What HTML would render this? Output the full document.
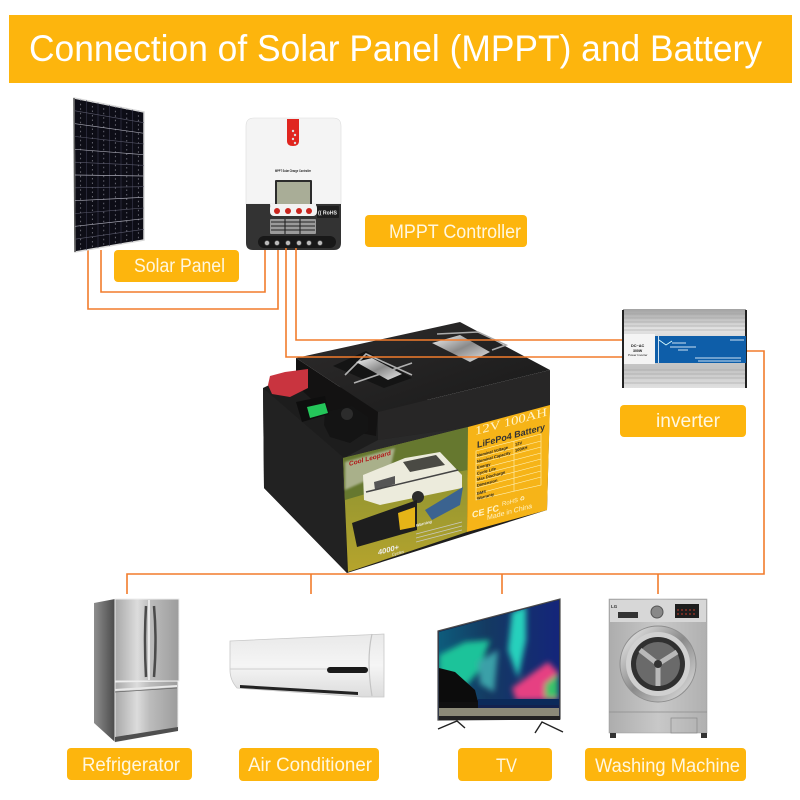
<!DOCTYPE html>
<html><head><meta charset="utf-8"><style>
html,body{margin:0;padding:0;background:#fff}svg{display:block}
text{font-family:"Liberation Sans",sans-serif}
.l{fill:#fdb50d}.t{fill:#fff7e0;font-size:19px}
.w{fill:none;stroke:#f27c2c;stroke-width:1.6}
.s{font-family:"Liberation Sans",sans-serif;fill:#222;font-size:4px;font-weight:bold}
</style></head><body>
<svg width="800" height="800" viewBox="0 0 800 800" xmlns="http://www.w3.org/2000/svg">
<defs>
<linearGradient id="steel" x1="0" x2="1" y1="0" y2="0"><stop offset="0" stop-color="#a8a8a8"/><stop offset=".35" stop-color="#dcdcdc"/><stop offset=".55" stop-color="#bcbcbc"/><stop offset="1" stop-color="#9c9c9c"/></linearGradient>
<linearGradient id="side" x1="0" x2="1"><stop offset="0" stop-color="#8e8e8e"/><stop offset="1" stop-color="#4a4a4a"/></linearGradient>
<linearGradient id="ac" x1="0" x2="0" y1="0" y2="1"><stop offset="0" stop-color="#e9e9e9"/><stop offset=".5" stop-color="#f5f5f5"/><stop offset="1" stop-color="#dcdcdc"/></linearGradient>
<linearGradient id="wash" x1="0" x2="1"><stop offset="0" stop-color="#adadad"/><stop offset=".5" stop-color="#c8c8c8"/><stop offset="1" stop-color="#b0b0b0"/></linearGradient>
<linearGradient id="tvsky" x1="0" x2="1" y1="0" y2="0"><stop offset="0" stop-color="#0d5c7c"/><stop offset=".4" stop-color="#143a62"/><stop offset="1" stop-color="#14257a"/></linearGradient>
<linearGradient id="inv" x1="0" x2="0" y1="0" y2="1"><stop offset="0" stop-color="#a2a2a2"/><stop offset=".25" stop-color="#e2e2e2"/><stop offset=".75" stop-color="#c2c2c2"/><stop offset="1" stop-color="#e0e0e0"/></linearGradient>
<linearGradient id="grass" x1="0" x2="0" y1="0" y2="1"><stop offset="0" stop-color="#7f8d34"/><stop offset="1" stop-color="#b6a42c"/></linearGradient>
<linearGradient id="topb" x1="0" x2="1" y1="0" y2="1"><stop offset="0" stop-color="#2e2c2c"/><stop offset="1" stop-color="#191919"/></linearGradient>
<linearGradient id="chrome" x1="0" x2="1" y1="0" y2="1"><stop offset="0" stop-color="#f4f4f4"/><stop offset=".5" stop-color="#8a8a8a"/><stop offset="1" stop-color="#e8e8e8"/></linearGradient>
<filter id="b2" x="-40%" y="-40%" width="180%" height="180%"><feGaussianBlur stdDeviation="3"/></filter>
<filter id="b1" x="-20%" y="-20%" width="140%" height="140%"><feGaussianBlur stdDeviation="1"/></filter>
<clipPath id="tvc"><polygon points="439,632 559,600 559,700 439,700"/></clipPath>
</defs>

<rect width="800" height="800" fill="#fff"/>
<rect x="9" y="15" width="783" height="68" fill="#fdb50d"/>
<text x="29" y="61" font-size="37" fill="#fff" textLength="733" lengthAdjust="spacingAndGlyphs">Connection of Solar Panel (MPPT) and Battery</text>

<!-- wires under devices -->
<path class="w" d="M101 250V292H265V248"/>
<path class="w" d="M88 250V309H278V248"/>
<path class="w" d="M746 351H764V574H127V594"/>
<path class="w" d="M311 574V594M502 574V594M658 574V594"/>

<!-- solar panel -->
<polygon points="74,98 144,112 144,240 75,252" fill="#0d0d16" stroke="#d8d8d8" stroke-width="1.5"/>
<line x1="74" y1="98" x2="75" y2="252" stroke="#555" stroke-width="1.5"/>
<g stroke="#3a3b50" stroke-width=".6">
<path d="M86.500 100.300V250M98 102.700V248M109.500 105V246M121 107.300V244M132.500 109.700V242"/>
</g>
<g stroke="#8c8c98" stroke-width=".7" stroke-dasharray="1.500 3">
<path d="M80.700 99.300V250.800M92.300 101.500V248.800M103.800 103.800V246.800M115.300 106.200V244.800M126.800 108.500V242.800M138.300 110.800V240.800"/>
</g>
<g stroke="#a8a8b4" stroke-width=".7">
<path d="M75 123.700L144 133.300M75 149.300L144 154.700M75 175L144 176M75 200.700L144 197.300M75 226.300L144 218.700"/>
</g>
<g stroke="#5a5a6c" stroke-width=".6">
<path d="M75 110.800L144 122.700M75 136.500L144 144M75 162.200L144 165.300M75 187.800L144 186.700M75 213.500L144 208M75 239.200L144 229.300"/>
</g>

<!-- controller -->
<path d="M254 118H333Q341 118 341 126V204H246V126Q246 118 254 118Z" fill="#f4f4f4" stroke="#dcdcdc" stroke-width=".6"/>
<path d="M287 119H299V141Q299 146 293 146Q287 146 287 141Z" fill="#e0251f"/>
<circle cx="293" cy="131" r="1.2" fill="#ddd"/><circle cx="295" cy="135" r="1.2" fill="#ddd"/><circle cx="293" cy="139" r="1.2" fill="#ddd"/><circle cx="295" cy="143" r="1.2" fill="#ddd"/>
<text x="275" y="172" font-size="3.500" font-weight="bold" fill="#222" textLength="36" lengthAdjust="spacingAndGlyphs">MPPT Solar Charge Controller</text>
<rect x="275" y="180" width="37" height="30" fill="#2b2b2b" rx="1"/>
<rect x="277" y="182" width="33" height="25" fill="#a9ad97"/>
<path d="M246 204H270Q271 216 279 216H308Q316 216 316 204H341V243Q341 250 334 250H253Q246 250 246 243Z" fill="#333"/>
<rect x="270" y="204" width="47" height="12" rx="4" fill="#f2f2f2"/>
<circle cx="277" cy="211" r="3" fill="#c9241d"/><circle cx="288" cy="211" r="3" fill="#c9241d"/><circle cx="299" cy="211" r="3" fill="#c9241d"/><circle cx="309" cy="211" r="3" fill="#c9241d"/>
<rect x="317" y="206" width="22" height="12" rx="1" fill="#1e1e1e"/>
<text x="318" y="214.500" font-size="5.500" fill="#eee" font-weight="bold" textLength="19" lengthAdjust="spacingAndGlyphs">(( RoHS</text>
<rect x="270" y="219" width="46" height="15" fill="#9a9a9a" rx="1"/>
<path d="M271 222H315M271 226H315M271 230H315M285 219V234M300 219V234" stroke="#222" stroke-width="1.100"/>
<rect x="258" y="236" width="78" height="12" rx="6" fill="#181818"/>
<g fill="#bbb" stroke="#555" stroke-width=".6"><circle cx="267" cy="243" r="2.400"/><circle cx="277" cy="243" r="2.400"/><circle cx="288" cy="243" r="2.400"/><circle cx="299" cy="243" r="2.400"/><circle cx="309" cy="243" r="2.400"/><circle cx="320" cy="243" r="2.400"/></g>

<!-- battery -->
<polygon points="263,388 296,372 378,400 550,400 547,510 347,573 264,488" fill="#1d1d1d"/>
<polygon points="263,388 344,458 347,573 264,488" fill="#222"/>
<polygon points="296,358 460,322 550,370 378,412" fill="url(#topb)"/>
<polygon points="296,358 378,412 376,436 345,430 296,385" fill="#131212"/>
<polygon points="378,412 550,370 550,405 468,427 378,440" fill="#272626"/>
<polygon points="344,458 378,440 468,427 468,440 348,470" fill="#2a2a2a"/>
<!-- handles -->
<polygon points="333,366 366,351 412,378 384,388" fill="#141414"/>
<path d="M345 375L366 354 412 375M354 383L412 363" fill="none" stroke="#b0b0b0" stroke-width="1.600"/>
<polygon points="356,362 372,358 402,374 388,380" fill="url(#chrome)"/>
<polygon points="432,343 460,335 490,352 470,362" fill="url(#chrome)"/>
<path d="M437 334L478 332 506 345 492 350" fill="none" stroke="#aaa" stroke-width="1.600"/>
<!-- terminals -->
<polygon points="270,376 285,372 308,369 308,388 290,397 272,394 268,385" fill="#c9343f"/>
<polygon points="325,412 352,406 368,417 368,431 350,443 330,437 324,425" fill="#141414"/>
<circle cx="347" cy="414" r="6" fill="#2c2c2c"/>
<polygon points="296,402 325,396 329,414 302,422" fill="#0e0e0e"/>
<polygon points="307,407 325,403 328,413 310,418" fill="#24c65a"/>
<!-- front label -->
<polygon points="343,458 468,427 467,532 348,572" fill="url(#grass)"/>
<polygon points="343,458 468,427 468,470 420,478 345,500" fill="#66782f"/>
<polygon points="345,462 395,448 390,470 345,490" fill="#a9b08a" filter="url(#b1)"/>
<polygon points="363,475 405,458 440,452 462,475 462,488 380,505 364,500" fill="#ecebdc"/>
<polygon points="403,462 436,455 445,465 410,472" fill="#4a4a44"/>
<polygon points="374,482 395,476 395,484 375,490" fill="#555"/>
<path d="M366 492L458 470" stroke="#444" stroke-width="1.500"/>
<circle cx="418" cy="497" r="6" fill="#2b2b2b"/>
<polygon points="425,510 463,487 460,505 432,520" fill="#3b6390"/>
<polygon points="352,523 417,500 417,530 357,547" fill="#1e1e1e"/>
<polygon points="398,513 415,507 415,527 400,530" fill="#e5b417"/>
<text transform="translate(349,466) skewY(-15)" font-size="6.500" font-weight="bold" fill="#b01818">Cool Leopard</text>
<text transform="translate(378,555) skewY(-15)" font-size="7.500" font-weight="bold" fill="#eee">4000+</text>
<text transform="translate(392,556) skewY(-15)" font-size="4" fill="#eee">Cycles</text>
<text transform="translate(416,527) skewY(-15)" font-size="4" font-weight="bold" fill="#eee">Warning</text>
<path d="M416 534L462 522M416 538L462 526M416 542L462 530" stroke="#c9c9c0" stroke-width=".8"/>
<!-- yellow label -->
<polygon points="468,427 550,405 547,510 467,532" fill="#f6b418"/>
<text transform="translate(475,435) skewY(-15)" font-size="12" fill="#fff3c8" textLength="72" lengthAdjust="spacingAndGlyphs" style="font-family:'Liberation Serif',serif">12V 100AH</text>
<text transform="translate(477,448) skewY(-15)" font-size="9" font-weight="bold" fill="#333" textLength="68" lengthAdjust="spacingAndGlyphs">LiFePo4 Battery</text>
<g stroke="#fff2b8" stroke-width=".6" fill="none"><path d="M476 451L541 434V485L476 500ZM476 458L541 441M476 464L541 447M476 470L541 453M476 476L541 459M476 482L541 465M476 488L541 471M476 494L541 477M514 441V491"/></g>
<g class="s"><text transform="translate(477,457) skewY(-15)">Nominal Voltage</text><text transform="translate(477,463) skewY(-15)">Nominal Capacity</text><text transform="translate(477,469) skewY(-15)">Energy</text><text transform="translate(477,475) skewY(-15)">Cycle Life</text><text transform="translate(477,481) skewY(-15)">Max Discharge</text><text transform="translate(477,487) skewY(-15)">Dimension</text><text transform="translate(477,495) skewY(-15)">BMS</text><text transform="translate(477,500) skewY(-15)">Warranty</text></g>
<text transform="translate(515,446) skewY(-15)" class="s">12V</text>
<text transform="translate(515,452) skewY(-15)" class="s">100AH</text>
<text transform="translate(472,518) skewY(-15)" font-size="9" font-weight="bold" fill="#fff3c8">CE FC</text>
<text transform="translate(502,506) skewY(-15)" font-size="6" fill="#fff3c8">RoHS ♻</text>
<text transform="translate(487,520) skewY(-15)" font-size="7" fill="#fff3c8">Made in China</text>

<!-- wires over battery -->
<path class="w" d="M296 248V340H623"/>
<path class="w" d="M286 248V357H623"/>

<!-- inverter -->
<rect x="623" y="309" width="123" height="79" fill="url(#inv)"/>
<rect x="622" y="310" width="2" height="78" fill="#222"/><rect x="745" y="310" width="2" height="78" fill="#222"/>
<g stroke="#9a9a9a" stroke-width=".6"><path d="M624 314H745M624 318H745M624 322H745M624 326H745M624 330H745M624 370H745M624 374H745M624 378H745M624 383H745"/></g>
<rect x="624" y="334" width="31" height="30" fill="#f4f4f4"/>
<rect x="655" y="336" width="91" height="27" fill="#0e5ea9"/>
<rect x="658" y="336" width="1" height="27" fill="#cbe0f2"/>
<text x="631" y="347" font-size="3.800" font-weight="bold" fill="#111">DC~AC</text><text x="633" y="352" font-size="3.500" font-weight="bold" fill="#111">300W</text><text x="628" y="356" font-size="3" fill="#111">Power Inverter</text>
<path d="M659 340L666 345 672 341" stroke="#dff" stroke-width=".8" fill="none"/>
<g stroke="#cfe2f3" stroke-width="1"><path d="M672 343H686M670 347H696M678 350H688M695 358H741M698 361H741M730 340H744"/></g>

<!-- fridge -->
<polygon points="94,603 115,599 115,742 94,723" fill="url(#side)"/>
<rect x="115" y="599" width="64" height="82" fill="url(#steel)" stroke="#eee" stroke-width="1"/>
<polygon points="115,682 178,681 178,730 115,742" fill="url(#steel)" stroke="#eee" stroke-width="1"/>
<path d="M115 690L177 686" stroke="#e8e8e8" stroke-width="2"/>
<path d="M115 692L177 688" stroke="#666" stroke-width=".8"/>
<line x1="149" y1="600" x2="149" y2="680" stroke="#f4f4f4" stroke-width="1.500"/>
<path d="M146 606Q144 640 146 677M154 606Q157 640 154 677" fill="none" stroke="#4a4a4a" stroke-width="2.500"/>
<path d="M115 742L178 731V727L115 737Z" fill="#4f4f4f"/>

<!-- AC -->
<path d="M230 641L384 634V697H362L237 688Q230 680 230 670Z" fill="url(#ac)" stroke="#c8c8c8" stroke-width=".8"/>
<path d="M372 634Q366 660 372 696" fill="none" stroke="#c4c4c4" stroke-width="1.200"/>
<path d="M230 669H328" stroke="#cfcfcf" stroke-width="1"/>
<rect x="327" y="667" width="41" height="6" rx="3" fill="#1a1a1a"/>
<path d="M240 685L358 692V695L240 688Z" fill="#222"/>

<!-- TV -->
<polygon points="438,631 560,599 560,719 438,720" fill="#12224f" stroke="#4a4a4a" stroke-width="1.200"/>
<polygon points="439,632 559,600 559,700 439,700" fill="url(#tvsky)"/>
<g filter="url(#b2)" clip-path="url(#tvc)">
<polygon points="439,655 465,642 490,640 478,672 462,690 439,672" fill="#1fc39a"/>
<polygon points="512,612 526,606 526,640 518,678 508,650" fill="#25d0bc"/>
<polygon points="478,662 498,650 494,692 480,684" fill="#3aa0a8"/>
<polygon points="512,688 548,662 558,672 558,700 516,700" fill="#e63f82"/>
<polygon points="545,684 558,674 558,698 545,698" fill="#38c46a"/>
</g>
<polygon points="439,668 455,672 475,690 478,702 439,702" fill="#0c0c0c"/>
<rect x="478" y="699" width="81" height="6" fill="#0b2a5a"/>
<rect x="439" y="702" width="39" height="6" fill="#101010"/>
<rect x="439" y="708" width="120" height="8" fill="#8c8a78"/>
<rect x="439" y="716" width="121" height="4" fill="#222"/>
<path d="M438 729L457 721 465 728M535 733L542 722 563 732" fill="none" stroke="#222" stroke-width="1.400"/>

<!-- washer -->
<rect x="609" y="599" width="98" height="134" fill="url(#wash)" stroke="#9a9a9a" stroke-width=".5"/>
<rect x="610" y="600" width="96" height="22" fill="#d7d7d7"/>
<rect x="618" y="612" width="20" height="6" fill="#333"/>
<text x="611" y="608" font-size="4.500" font-weight="bold" fill="#333">LG</text>
<circle cx="657" cy="612" r="6" fill="#888" stroke="#555"/>
<rect x="675" y="604" width="24" height="14" fill="#1e1e1e"/>
<path d="M677 610H697M677 614H697" stroke="#c0392b" stroke-width="1" stroke-dasharray="2 2"/>
<circle cx="658" cy="664" r="38" fill="url(#chrome)" stroke="#8e8e8e"/>
<circle cx="658" cy="664" r="32" fill="#d0d0d0"/>
<circle cx="658" cy="664" r="27" fill="#303030"/>
<circle cx="658" cy="664" r="22" fill="#6a6a6a"/>
<path d="M658 664L640 650M658 664L677 652M658 664V686" stroke="#b9b9b9" stroke-width="5"/>
<circle cx="658" cy="664" r="4" fill="#333"/>
<path d="M609 712H707" stroke="#8d8d8d" stroke-width=".7"/>
<rect x="671" y="718" width="26" height="15" fill="none" stroke="#888" stroke-width=".7"/>
<rect x="610" y="733" width="6" height="5" fill="#333"/><rect x="701" y="733" width="6" height="5" fill="#333"/>

<!-- labels -->
<rect class="l" x="114" y="250" width="125" height="32" rx="4"/>
<text class="t" x="134" y="272" textLength="91" lengthAdjust="spacingAndGlyphs">Solar Panel</text>
<rect class="l" x="365" y="215" width="162" height="32" rx="4"/>
<text class="t" x="389" y="238" textLength="132" lengthAdjust="spacingAndGlyphs">MPPT Controller</text>
<rect class="l" x="620" y="405" width="126" height="32" rx="4"/>
<text class="t" x="656" y="427" textLength="64" lengthAdjust="spacingAndGlyphs">inverter</text>
<rect class="l" x="67" y="748" width="125" height="32" rx="4"/>
<text class="t" x="82" y="771" textLength="98" lengthAdjust="spacingAndGlyphs">Refrigerator</text>
<rect class="l" x="239" y="748" width="140" height="33" rx="4"/>
<text class="t" x="248" y="771" textLength="124" lengthAdjust="spacingAndGlyphs">Air Conditioner</text>
<rect class="l" x="458" y="748" width="94" height="33" rx="4"/>
<text class="t" x="496" y="772" textLength="21" lengthAdjust="spacingAndGlyphs">TV</text>
<rect class="l" x="585" y="748" width="161" height="33" rx="4"/>
<text class="t" x="595" y="772" textLength="145" lengthAdjust="spacingAndGlyphs">Washing Machine</text>
</svg>
</body></html>
